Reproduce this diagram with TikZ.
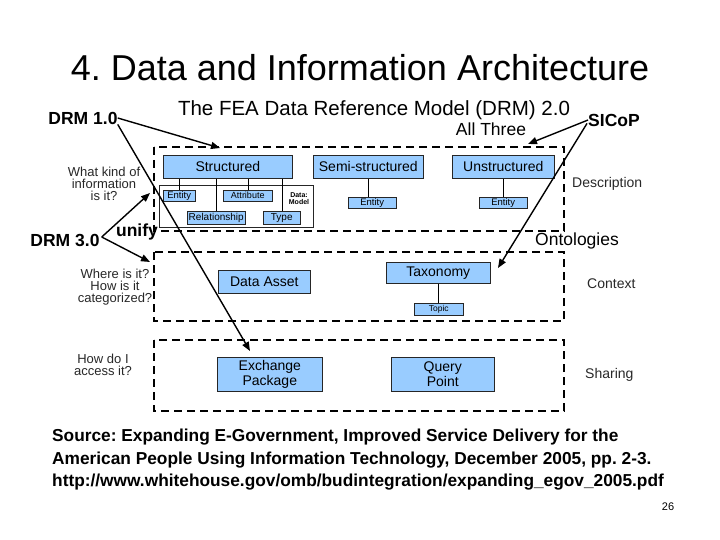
\documentclass[tikz,border=0pt]{standalone}
\usepackage{fontspec}
\setmainfont{Liberation Sans}
\usetikzlibrary{arrows.meta}
\definecolor{boxblue}{RGB}{153,204,255}
\definecolor{labgray}{RGB}{40,40,40}
\frenchspacing
\begin{document}
\begin{tikzpicture}[x=1pt,y=-1pt,
  bigbox/.style={draw=black!85, fill=boxblue, line width=0.6pt, inner sep=0pt, anchor=north west, font=\fontsize{14}{15}\selectfont, align=center},
  smallbox/.style={draw=black!85, fill=boxblue, line width=0.5pt, inner sep=0pt, anchor=north west, font=\fontsize{9.5}{10}\selectfont},
  zone/.style={draw, dash pattern=on 8pt off 5pt, line width=1.6pt},
  note/.style={font=\fontsize{17.5}{19}\selectfont\bfseries, inner sep=0pt},
  plainnote/.style={font=\fontsize{17.5}{19}\selectfont, inner sep=0pt},
  question/.style={font=\fontsize{13}{12.2}\selectfont, align=center, text=labgray, inner sep=0pt},
  layer/.style={font=\fontsize{14}{15}\selectfont, anchor=west, text=labgray, inner sep=0pt},
  arr/.style={-{Triangle[length=9pt,width=7pt]}, line width=1.4pt},
  link/.style={line width=0.5pt}
]
\useasboundingbox (0,0) rectangle (720,540);
\fill[white] (0,0) rectangle (720,540);

% titles
\node[font=\fontsize{36}{40}\selectfont, inner sep=0pt] (title) at (360,68) {4. Data and Information Architecture};
\node[font=\fontsize{20.5}{24}\selectfont, inner sep=0pt] (header) at (374,110) {The FEA Data Reference Model (DRM) 2.0};

% dashed zones
\draw[zone] (154,147) rectangle (564,231);
\draw[zone] (154,252) rectangle (564,321);
\draw[zone] (154,340) rectangle (564,411);

% description layer
\node[draw=black!85, fill=white, line width=0.6pt, anchor=north west, minimum width=154pt, minimum height=42pt, inner sep=0pt] (dm) at (159,185) {};
\node[bigbox, minimum width=129pt, minimum height=23pt] (struct) at (163,155) {Structured};
\node[bigbox, minimum width=110pt, minimum height=23pt] (semi) at (313,155) {Semi-structured};
\node[bigbox, minimum width=102pt, minimum height=23pt] (unstr) at (452,155) {Unstructured};
\node[smallbox, minimum width=48pt, minimum height=11pt] (sent) at (348,197) {Entity};
\node[smallbox, minimum width=48pt, minimum height=11pt] (uent) at (479,197) {Entity};
\node[smallbox, minimum width=32pt, minimum height=11pt] (ent) at (163,190) {Entity};
\node[smallbox, minimum width=49pt, minimum height=11pt, font=\fontsize{9}{10}\selectfont] (attr) at (223,190) {Attribute};
\node[smallbox, minimum width=58pt, minimum height=13pt, font=\fontsize{10}{11}\selectfont] (rel) at (187,211) {Relationship};
\node[smallbox, minimum width=37pt, minimum height=13pt, font=\fontsize{10}{11}\selectfont] (type) at (263,211) {Type};
\node[font=\fontsize{7}{7}\selectfont\bfseries, align=center, inner sep=0pt] (dmlabel) at (299,199) {Data:\\Model};
\draw[link] (struct.south -| ent.north) -- (ent.north);
\draw[link] (struct.south -| rel.north) -- (rel.north);
\draw[link] (struct.south -| attr.north) -- (attr.north);
\draw[link] (struct.south -| type.north) -- (type.north);
\draw[link] (semi.south) -- (semi.south |- sent.north);
\draw[link] (unstr.south) -- (unstr.south |- uent.north);

% context layer
\node[bigbox, minimum width=92pt, minimum height=23pt] (asset) at (218,270) {Data Asset};
\node[bigbox, minimum width=104pt, minimum height=21pt] (tax) at (386,262) {Taxonomy};
\node[smallbox, minimum width=49pt, minimum height=12pt, font=\fontsize{8.5}{9}\selectfont] (topic) at (414,303) {Topic};
\draw[link] (tax.south) -- (tax.south |- topic.north);

% sharing layer
\node[bigbox, minimum width=105pt, minimum height=34pt] (xpkg) at (217,357) {Exchange\\Package};
\node[bigbox, minimum width=103pt, minimum height=34pt] (qpt) at (391,357) {Query\\Point};

% left questions
\node[question] (q1) at (104,184) {What kind of\\information\\is it?};
\node[question] (q2) at (115,287) {Where is it?\\How is it\\categorized?};
\node[question] (q3) at (103,365) {How do I\\access it?};

% right layer names
\node[layer] (ldesc) at (572,184) {Description};
\node[layer] (lctx) at (587,284) {Context};
\node[layer] (lshare) at (585,375) {Sharing};

% annotations
\node[note] (drm1) at (83,118) {DRM 1.0};
\node[note] (drm3) at (65,240) {DRM 3.0};
\node[note] (unify) at (137,232) {unify};
\node[plainnote] (all3) at (491,129) {All Three};
\node[note] (sicop) at (614,120) {SICoP};
\node[plainnote] (onto) at (577,241) {Ontologies};

\coordinate (tStruct) at (220,148);
\coordinate (tXpkg) at (250,351);
\coordinate (tQ1) at (150,193);
\coordinate (tQ2) at (150,262);
\coordinate (tAll) at (528,144);
\coordinate (tTax) at (498,268);

\draw[arr] (drm1.east) -- (tStruct);
\draw[arr] (drm1.south east) -- (tXpkg);
\draw[arr] (drm3.east) ++(2,-3) -- (tQ1);
\draw[arr] (drm3.east) ++(2,-3) -- (tQ2);
\draw[arr] (sicop.west) -- (tAll);
\draw[arr] (sicop.south west) ++(-1,-3) -- (tTax);

% source
\node[font=\fontsize{17.3}{22.5}\selectfont\bfseries, align=left, anchor=north west, inner sep=0pt] (src) at (52,429) {Source: Expanding E-Government, Improved Service Delivery for the\\American People Using Information Technology, December 2005, pp. 2-3.\\http://www.whitehouse.gov/omb/budintegration/expanding\_egov\_2005.pdf};
\node[font=\fontsize{11}{12}\selectfont, inner sep=0pt] (pnum) at (668,507) {26};
\end{tikzpicture}
\end{document}
